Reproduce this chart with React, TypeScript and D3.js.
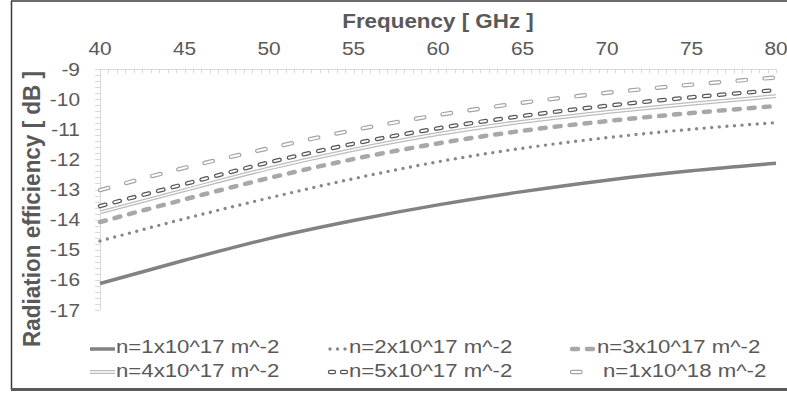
import { useEffect, useRef } from 'react';
import * as d3 from 'd3';

// values (GHz / dB)
const frequencies = [40, 45, 50, 55, 60, 65, 70, 75, 80];
const eff1e17 = [-16.12, -15.35, -14.63, -14.03, -13.51, -13.07, -12.69, -12.38, -12.13];
const eff2e17 = [-14.71, -13.97, -13.28, -12.64, -12.08, -11.63, -11.28, -11.0, -10.78];
const eff3e17 = [-14.08, -13.33, -12.62, -11.99, -11.47, -11.05, -10.73, -10.46, -10.23];
const eff4e17 = [-13.76, -13.02, -12.3, -11.68, -11.16, -10.75, -10.43, -10.15, -9.9];
const eff5e17 = [-13.55, -12.82, -12.1, -11.48, -10.97, -10.56, -10.22, -9.94, -9.7];
const eff1e18 = [-13.02, -12.28, -11.63, -11.03, -10.53, -10.12, -9.79, -9.52, -9.28];
const seriesLabels = [
    'n=1x10^17 m^-2',
    'n=2x10^17 m^-2',
    'n=3x10^17 m^-2',
    'n=4x10^17 m^-2',
    'n=5x10^17 m^-2',
    'n=1x10^18 m^-2',
];
const xTicks = [40, 45, 50, 55, 60, 65, 70, 75, 80];
const yTicks = [-9, -10, -11, -12, -13, -14, -15, -16, -17];

interface Layer {
    stroke: string;
    width: number;
    dash?: string;
}

// line look of each series, drawn as stacked strokes
const seriesStyles: Layer[][] = [
    [{ stroke: '#828282', width: 3.5 }],
    [{ stroke: '#888888', width: 3.4, dash: '0 7.6' }],
    [{ stroke: '#a8a8a8', width: 4.5, dash: '6 9' }],
    [{ stroke: '#bcbcbc', width: 4 }, { stroke: '#ffffff', width: 1.5 }],
    [{ stroke: '#575757', width: 4.4, dash: '5.5 9.5' }, { stroke: '#ffffff', width: 1.9, dash: '5.5 9.5' }],
    [{ stroke: '#a4a4a4', width: 4.4, dash: '8.5 18.5' }, { stroke: '#ffffff', width: 2, dash: '8.5 18.5' }],
];

const FONT = '"Liberation Sans", Arial, sans-serif';
const TEXT_GRAY = '#595959';

export default function App() {
    const svgRef = useRef<SVGSVGElement>(null);

    useEffect(() => {
        if (!svgRef.current) return;
        const width = 787;
        const height = 394;
        const series = [eff1e17, eff2e17, eff3e17, eff4e17, eff5e17, eff1e18];

        const svg = d3.select(svgRef.current).attr('width', width).attr('height', height);
        svg.selectAll('*').remove();

        svg.append('rect').attr('width', width).attr('height', height).attr('fill', '#ffffff');

        const x = d3.scaleLinear().domain([40, 80]).range([100, 776]);
        const y = d3.scaleLinear().domain([-9, -17]).range([69, 310]);

        // text stretched sideways like the source picture
        const addText = (
            tx: number,
            ty: number,
            str: string,
            size: number,
            sx: number,
            anchor: string,
            bold = false,
            rotate = 0
        ) =>
            svg
                .append('text')
                .attr('transform', `translate(${tx},${ty}) scale(${sx},1)${rotate ? ` rotate(${rotate})` : ''}`)
                .attr('text-anchor', anchor)
                .attr('font-family', FONT)
                .attr('font-size', size)
                .attr('font-weight', bold ? 'bold' : 'normal')
                .attr('fill', TEXT_GRAY)
                .text(str);

        // axis lines and minor ticks
        const axisColor = '#d9d9d9';
        svg.append('line')
            .attr('x1', x(40)).attr('x2', x(80)).attr('y1', y(-9) + 0.5).attr('y2', y(-9) + 0.5)
            .attr('stroke', axisColor);
        d3.range(40, 80.01, 0.5).forEach((f) => {
            svg.append('line')
                .attr('x1', Math.round(x(f)) + 0.5).attr('x2', Math.round(x(f)) + 0.5)
                .attr('y1', y(-9)).attr('y2', y(-9) + 4.5)
                .attr('stroke', axisColor);
        });
        svg.append('line')
            .attr('x1', x(40) + 0.5).attr('x2', x(40) + 0.5).attr('y1', y(-9)).attr('y2', y(-17))
            .attr('stroke', axisColor);
        d3.range(0, 41).forEach((k) => {
            const v = -9 - k * 0.2;
            svg.append('line')
                .attr('x1', x(40) - 5).attr('x2', x(40))
                .attr('y1', Math.round(y(v)) + 0.5).attr('y2', Math.round(y(v)) + 0.5)
                .attr('stroke', axisColor);
        });

        // tick labels
        xTicks.forEach((t) => addText(x(t), 55, String(t), 18.5, 1.13, 'middle'));
        yTicks.forEach((t) => addText(80, y(t) + 6.5, String(t), 18.5, 1.13, 'end'));

        // axis titles
        addText((x(40) + x(80)) / 2, 28, 'Frequency [ GHz ]', 20, 1.12, 'middle', true);
        addText(39.5, 209, 'Radiation efficiency [ dB ]', 22.5, 1.1, 'middle', true, -90);

        // series
        const line = d3
            .line<number>()
            .x((_, i) => x(frequencies[i]))
            .y((d) => y(d))
            .curve(d3.curveMonotoneX);

        series.forEach((values, si) => {
            seriesStyles[si].forEach((layer) => {
                const p = svg
                    .append('path')
                    .attr('d', line(values))
                    .attr('fill', 'none')
                    .attr('stroke', layer.stroke)
                    .attr('stroke-width', layer.width)
                    .attr('stroke-linejoin', 'round')
                    .attr('stroke-linecap', layer.dash ? 'round' : 'butt');
                if (layer.dash) p.attr('stroke-dasharray', layer.dash);
            });
        });

        // legend
        const cols = [
            { x0: 90, x1: 115, tx: 116 },
            { x0: 330, x1: 346, tx: 349 },
            { x0: 572, x1: 595, tx: 597 },
        ];
        const rowLine = [349, 372];
        const rowText = [352.5, 377];
        seriesLabels.forEach((label, si) => {
            const row = Math.floor(si / 3);
            const col = cols[si % 3];
            seriesStyles[si].forEach((layer) => {
                const l = svg
                    .append('line')
                    .attr('x1', col.x0).attr('x2', si === 5 ? 581 : col.x1)
                    .attr('y1', rowLine[row]).attr('y2', rowLine[row])
                    .attr('stroke', layer.stroke)
                    .attr('stroke-width', layer.width)
                    .attr('stroke-linecap', layer.dash ? 'round' : 'butt');
                if (layer.dash) l.attr('stroke-dasharray', si === 4 ? '4 8' : si === 1 ? '0 7.5' : layer.dash);
            });
            addText(si === 5 ? 603 : col.tx, rowText[row], label, 18.5, 1.2, 'start');
        });

        // picture frame
        svg.append('line').attr('x1', 11).attr('x2', width).attr('y1', 1).attr('y2', 1)
            .attr('stroke', '#3a3a3a').attr('stroke-width', 1.5);
        svg.append('line').attr('x1', 11.5).attr('x2', 11.5).attr('y1', 1).attr('y2', 390)
            .attr('stroke', '#3a3a3a').attr('stroke-width', 1.5);
        svg.append('line').attr('x1', 11).attr('x2', width).attr('y1', 389.5).attr('y2', 389.5)
            .attr('stroke', '#5a5a5a').attr('stroke-width', 3);
    }, []);

    return (
        <div style={{ position: 'absolute', left: 0, top: 0 }}>
            <svg ref={svgRef} style={{ display: 'block' }}></svg>
        </div>
    );
}
